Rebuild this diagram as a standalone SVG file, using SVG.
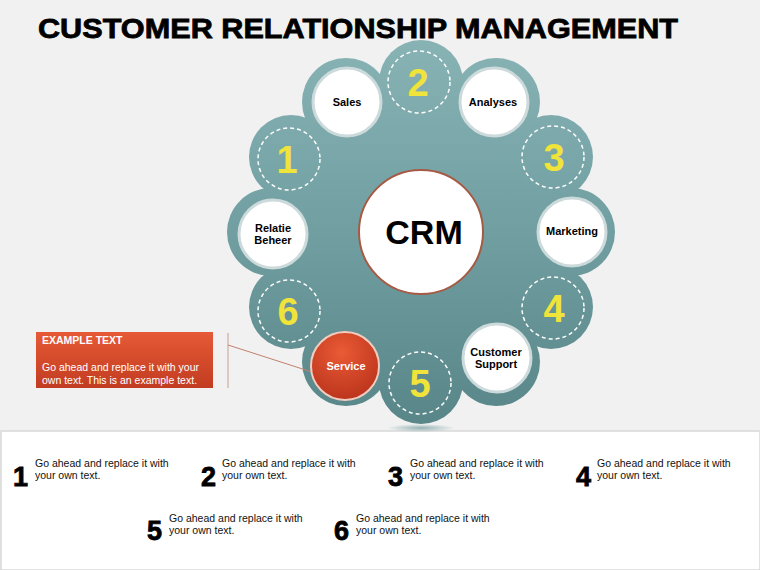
<svg xmlns="http://www.w3.org/2000/svg" width="760" height="570" viewBox="0 0 760 570">
<defs>
  <linearGradient id="teal" gradientUnits="userSpaceOnUse" x1="0" y1="40" x2="0" y2="430">
    <stop offset="0" stop-color="#88b3b5"/>
    <stop offset="0.5" stop-color="#709ea1"/>
    <stop offset="1" stop-color="#588587"/>
  </linearGradient>
  <radialGradient id="red" cx="0.45" cy="0.3" r="0.75">
    <stop offset="0" stop-color="#ea5a35"/>
    <stop offset="1" stop-color="#b8321b"/>
  </radialGradient>
  <linearGradient id="boxg" x1="0" y1="0" x2="0" y2="1">
    <stop offset="0" stop-color="#e65a36"/>
    <stop offset="1" stop-color="#c23c21"/>
  </linearGradient>
  <radialGradient id="refl" cx="0.5" cy="0.5" r="0.5">
    <stop offset="0" stop-color="#6d9799" stop-opacity="0.7"/>
    <stop offset="1" stop-color="#6d9799" stop-opacity="0"/>
  </radialGradient>
</defs>
<style>
  .title{font-family:"Liberation Sans",Arial,sans-serif;font-weight:bold;font-size:28px;fill:#000;stroke:#000;stroke-width:0.8}
  .dash{fill:none;stroke:#ffffff;stroke-width:1.5;stroke-dasharray:4 3}
  .num{font-family:"Liberation Sans",Arial,sans-serif;font-weight:900;font-size:38px;fill:#f0e33a;text-anchor:middle}
  .wc{fill:#ffffff;stroke:#cddadb;stroke-width:3}
  .lbl{font-family:"Liberation Sans",Arial,sans-serif;font-weight:bold;font-size:11px;fill:#000;text-anchor:middle}
  .crm{font-family:"Liberation Sans",Arial,sans-serif;font-weight:bold;font-size:34px;fill:#000;text-anchor:middle}
  .bn{font-family:"Liberation Sans",Arial,sans-serif;font-weight:900;font-size:27px;fill:#000;stroke:#000;stroke-width:0.8}
  .bt{font-family:"Liberation Sans",Arial,sans-serif;font-size:10.5px;fill:#111}
  .wt{font-family:"Liberation Sans",Arial,sans-serif;font-size:10.5px;fill:#fff}
</style>
<rect x="0" y="0" width="760" height="570" fill="#f1f1f1"/>
<rect x="1" y="431" width="759" height="139" fill="#ffffff" stroke="#d8d8d8" stroke-width="1.5"/>

<text class="title" x="38" y="38" textLength="640" lengthAdjust="spacingAndGlyphs">CUSTOMER RELATIONSHIP MANAGEMENT</text>

<g id="wheel-base">
  <ellipse cx="421" cy="428" rx="34" ry="4" fill="url(#refl)"/>
  <g fill="url(#teal)">
    <circle cx="421" cy="232" r="150"/>
    <circle cx="421" cy="82" r="42"/>
    <circle cx="496" cy="102" r="44"/>
    <circle cx="551" cy="157" r="42"/>
    <circle cx="571" cy="232" r="44"/>
    <circle cx="551" cy="307" r="42"/>
    <circle cx="496" cy="362" r="44"/>
    <circle cx="421" cy="382" r="42"/>
    <circle cx="346" cy="362" r="44"/>
    <circle cx="291" cy="307" r="42"/>
    <circle cx="271" cy="232" r="44"/>
    <circle cx="291" cy="157" r="42"/>
    <circle cx="346" cy="102" r="44"/>
  </g>
</g>

<g id="connectors">
  <line x1="228" y1="333" x2="228" y2="388" stroke="#cbaea2" stroke-width="1.2"/>
  <line x1="228" y1="345" x2="312" y2="372" stroke="#c0806e" stroke-width="1"/>
</g>

<g id="crm">
  <circle cx="421" cy="232" r="62" fill="#ffffff" stroke="#a65a44" stroke-width="2"/>
  <text class="crm" x="424" y="244">CRM</text>
</g>

<g id="n2"><circle class="dash" cx="419" cy="82" r="31"/><text class="num" x="418" y="96">2</text></g>
<g id="n3"><circle class="dash" cx="553" cy="157" r="31"/><text class="num" x="554" y="171">3</text></g>
<g id="n4"><circle class="dash" cx="553" cy="308" r="31"/><text class="num" x="554" y="322">4</text></g>
<g id="n5"><circle class="dash" cx="420" cy="383" r="31"/><text class="num" x="420" y="397">5</text></g>
<g id="n6"><circle class="dash" cx="289" cy="311" r="31"/><text class="num" x="288" y="325">6</text></g>
<g id="n1"><circle class="dash" cx="289" cy="159" r="31"/><text class="num" x="287" y="173">1</text></g>

<g id="sales"><circle class="wc" cx="347" cy="102" r="34"/><text class="lbl" x="347" y="106">Sales</text></g>
<g id="analyses"><circle class="wc" cx="494" cy="102" r="34"/><text class="lbl" x="493" y="106">Analyses</text></g>
<g id="marketing"><circle class="wc" cx="572" cy="232" r="34"/><text class="lbl" x="572" y="235">Marketing</text></g>
<g id="customer-support"><circle class="wc" cx="497" cy="358" r="34"/><text class="lbl" x="496" y="356">Customer</text><text class="lbl" x="496" y="368">Support</text></g>
<g id="service"><circle cx="345" cy="366" r="34" fill="url(#red)" stroke="#f2cdbf" stroke-width="2"/><text class="lbl" x="346" y="370" style="fill:#fff">Service</text></g>
<g id="relatie-beheer"><circle class="wc" cx="273" cy="234" r="34"/><text class="lbl" x="273" y="232">Relatie</text><text class="lbl" x="273" y="244">Beheer</text></g>

<g id="callout">
  <rect x="36" y="332" width="177" height="56" fill="url(#boxg)"/>
  <text class="wt" x="42" y="344" font-weight="bold" font-size="11">EXAMPLE TEXT</text>
  <text class="wt" x="42" y="371">Go ahead and replace it with your</text>
  <text class="wt" x="42" y="384">own text. This is an example text.</text>
</g>

<g id="item1"><text class="bn" x="13" y="486">1</text><text class="bt" x="35" y="467">Go ahead and replace it with</text><text class="bt" x="35" y="479">your own text.</text></g>
<g id="item2"><text class="bn" x="201" y="486">2</text><text class="bt" x="222" y="467">Go ahead and replace it with</text><text class="bt" x="222" y="479">your own text.</text></g>
<g id="item3"><text class="bn" x="388" y="486">3</text><text class="bt" x="410" y="467">Go ahead and replace it with</text><text class="bt" x="410" y="479">your own text.</text></g>
<g id="item4"><text class="bn" x="576" y="486">4</text><text class="bt" x="597" y="467">Go ahead and replace it with</text><text class="bt" x="597" y="479">your own text.</text></g>
<g id="item5"><text class="bn" x="147" y="540">5</text><text class="bt" x="169" y="522">Go ahead and replace it with</text><text class="bt" x="169" y="534">your own text.</text></g>
<g id="item6"><text class="bn" x="334" y="540">6</text><text class="bt" x="356" y="522">Go ahead and replace it with</text><text class="bt" x="356" y="534">your own text.</text></g>
</svg>
